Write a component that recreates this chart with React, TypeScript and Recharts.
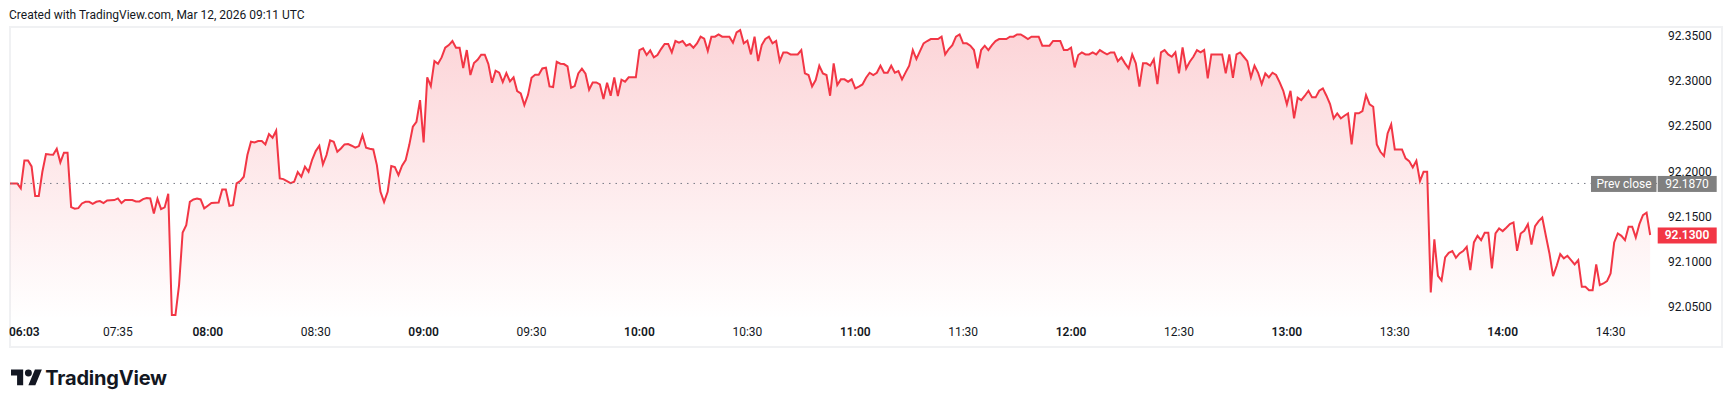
import { Area, AreaChart, ReferenceLine, XAxis, YAxis } from "recharts";

// first print of the day, shown as the first bar before the session gap
const preOpenTime = "06:03";
const preOpenPrice = 92.187;
const prevClose = 92.187;
const lastPrice = 92.13;

// one price per minute, per hour block
const h07 = [
  92.187, 92.187, 92.1815, 92.2125, 92.2125, 92.2058, 92.173, 92.173, 92.1999, 92.2195,
  92.219, 92.2187, 92.2254, 92.2103, 92.221, 92.221, 92.1608, 92.159, 92.1597, 92.1649,
  92.1667, 92.1667, 92.1645, 92.1667, 92.1675, 92.1653, 92.1682, 92.1684, 92.1686, 92.1704,
  92.1653, 92.1686, 92.1686, 92.1686, 92.1671, 92.1671, 92.1697, 92.1708, 92.1704, 92.1538,
  92.17, 92.1586, 92.1605, 92.1756, 92.0414, 92.0414, 92.0746, 92.1328, 92.1409, 92.1667,
  92.1693, 92.1704, 92.1693, 92.1594,
];
const h08 = [
  92.1623, 92.1653, 92.1657, 92.166, 92.1804, 92.1804, 92.1623, 92.163, 92.187, 92.1896,
  92.1944, 92.2184, 92.2331, 92.2324, 92.2339, 92.2339, 92.2302, 92.2416, 92.2375, 92.2453,
  92.1926, 92.1918, 92.1896, 92.1874, 92.1889, 92.1996, 92.1944, 92.2055, 92.1999, 92.2132,
  92.2228, 92.2287, 92.208, 92.2184, 92.2346, 92.2331, 92.222, 92.2257, 92.2302, 92.2305,
  92.2287, 92.2265, 92.2283, 92.2405, 92.2265, 92.2254, 92.2246, 92.2073, 92.1778, 92.1664,
  92.1778, 92.2062, 92.2051, 92.1962, 92.2066, 92.2128, 92.2294, 92.2497, 92.2552, 92.2792,
];
const h09 = [
  92.2324, 92.3043, 92.2947, 92.3223, 92.3194, 92.3264, 92.3371, 92.34, 92.3445, 92.3371,
  92.3371, 92.3146, 92.3345, 92.3069, 92.3201, 92.3238, 92.3294, 92.3294, 92.319, 92.2984,
  92.3117, 92.3094, 92.2991, 92.3091, 92.2999, 92.3043, 92.2892, 92.2866, 92.2737, 92.2847,
  92.3039, 92.3072, 92.3072, 92.3142, 92.315, 92.2943, 92.2936, 92.3216, 92.3194, 92.319,
  92.3164, 92.2928, 92.2947, 92.3087, 92.3139, 92.3083, 92.2906, 92.2987, 92.2987, 92.2965,
  92.2803, 92.2984, 92.284, 92.3043, 92.2836, 92.3017, 92.2995, 92.3043, 92.3043, 92.3043,
];
const h10 = [
  92.3345, 92.3364, 92.329, 92.3341, 92.3264, 92.329, 92.3356, 92.3412, 92.3412, 92.3319,
  92.3445, 92.3426, 92.3445, 92.3393, 92.3412, 92.3371, 92.3419, 92.3493, 92.347, 92.3334,
  92.3493, 92.3493, 92.3518, 92.3493, 92.3493, 92.3493, 92.3426, 92.3541, 92.3566, 92.3419,
  92.3448, 92.3297, 92.3493, 92.3223, 92.34, 92.3467, 92.3493, 92.3419, 92.3445, 92.3223,
  92.3319, 92.3319, 92.3297, 92.3297, 92.3297, 92.3345, 92.3087, 92.3069, 92.2943, 92.3013,
  92.3172, 92.3087, 92.3069, 92.284, 92.3198, 92.2958, 92.3021, 92.3021, 92.2995, 92.3021,
];
const h11 = [
  92.2921, 92.294, 92.2965, 92.3039, 92.3094, 92.3069, 92.3094, 92.3172, 92.3094, 92.3094,
  92.3172, 92.3094, 92.3113, 92.3021, 92.3098, 92.3172, 92.3345, 92.3246, 92.3334, 92.3419,
  92.3445, 92.3467, 92.3467, 92.3467, 92.3493, 92.3297, 92.3356, 92.34, 92.3493, 92.3518,
  92.3419, 92.3419, 92.3393, 92.3345, 92.3142, 92.3345, 92.3393, 92.3345, 92.34, 92.3445,
  92.3467, 92.3467, 92.3467, 92.3493, 92.3493, 92.3518, 92.3518, 92.3493, 92.3467, 92.3493,
  92.3493, 92.3493, 92.3393, 92.3393, 92.3393, 92.3445, 92.3445, 92.3445, 92.3345, 92.3345,
];
const h12 = [
  92.3371, 92.3153, 92.329, 92.3319, 92.3297, 92.3297, 92.3319, 92.3297, 92.3345, 92.3319,
  92.3297, 92.3319, 92.3319, 92.3223, 92.3264, 92.3198, 92.3142, 92.3297, 92.3198, 92.294,
  92.3198, 92.3198, 92.3172, 92.3242, 92.2969, 92.3319, 92.3345, 92.3297, 92.3271, 92.3319,
  92.3087, 92.3375, 92.3142, 92.3216, 92.3271, 92.3345, 92.3319, 92.3345, 92.3032, 92.3297,
  92.3297, 92.3297, 92.3297, 92.3087, 92.3297, 92.3039, 92.3297, 92.3319, 92.3271, 92.3223,
  92.3043, 92.3172, 92.3094, 92.2969, 92.3087, 92.3043, 92.3094, 92.3069, 92.2987, 92.2895,
];
const h13 = [
  92.2744, 92.2895, 92.2589, 92.2818, 92.2792, 92.284, 92.2895, 92.2822, 92.2822, 92.2895,
  92.2921, 92.284, 92.2748, 92.2589, 92.2645, 92.2589, 92.2619, 92.2645, 92.2302, 92.2645,
  92.2645, 92.267, 92.2847, 92.2744, 92.2718, 92.2302, 92.222, 92.2173, 92.2423, 92.2523,
  92.2246, 92.2246, 92.2246, 92.2147, 92.2117, 92.2047, 92.2121, 92.1896, 92.1999, 92.1999,
  92.0664, 92.1251, 92.0849, 92.0797, 92.1052, 92.1103, 92.1122, 92.1048, 92.1096, 92.1122,
  92.117, 92.0911, 92.1218, 92.1291, 92.1243, 92.1324, 92.1324, 92.093, 92.1317, 92.1372,
];
const h14 = [
  92.1343, 92.138, 92.142, 92.1439, 92.1125, 92.1317, 92.1347, 92.142, 92.1195, 92.1398,
  92.1454, 92.1494, 92.1291, 92.1096, 92.0845, 92.0959, 92.1089, 92.1041, 92.107, 92.1022,
  92.0974, 92.1022, 92.0727, 92.0727, 92.069, 92.069, 92.0974, 92.0746, 92.0764, 92.079,
  92.0875, 92.1218, 92.1317, 92.1291, 92.1243, 92.1391, 92.1391, 92.1273, 92.142, 92.152,
  92.1546, 92.13,
];

const sessionBlocks = [
  { start: "07:06", prices: h07 },
  { start: "08:00", prices: h08 },
  { start: "09:00", prices: h09 },
  { start: "10:00", prices: h10 },
  { start: "11:00", prices: h11 },
  { start: "12:00", prices: h12 },
  { start: "13:00", prices: h13 },
  { start: "14:00", prices: h14 },
];

const timeTicks = [
  "06:03", "07:35", "08:00", "08:30", "09:00", "09:30", "10:00", "10:30",
  "11:00", "11:30", "12:00", "12:30", "13:00", "13:30", "14:00", "14:30",
];
const priceTicks = [92.05, 92.1, 92.15, 92.2, 92.25, 92.3, 92.35];

const RED = "#f23645";
const TEXT = "#131722";
const FONT = "Roboto, 'Liberation Sans', sans-serif";

const toMinutes = (t: string) => {
  const [h, m] = t.split(":").map(Number);
  return h * 60 + m;
};
const fmtTime = (m: number) =>
  `${String(Math.floor(m / 60)).padStart(2, "0")}:${String(m % 60).padStart(2, "0")}`;

// TradingView plots by bar index, so the gap after the pre-open print collapses
const rows: { bar: number; time: string; price: number }[] = [
  { bar: 0, time: preOpenTime, price: preOpenPrice },
];
sessionBlocks.forEach((b) =>
  b.prices.forEach((p, i) =>
    rows.push({ bar: rows.length, time: fmtTime(toMinutes(b.start) + i), price: p })
  )
);
const tickBars = timeTicks.map((t) => rows.find((r) => r.time === t)!.bar);
const timeByBar = new Map(rows.map((r) => [r.bar, r.time]));

function TimeTick({ x, y, payload }: any) {
  const label = timeByBar.get(payload.value) ?? "";
  const first = payload.value === 0;
  const bold = first || label.endsWith(":00");
  return (
    <text
      x={first ? x - 1 : x}
      y={y + 16}
      textAnchor={first ? "start" : "middle"}
      fill={TEXT}
      fontSize={12}
      fontWeight={bold ? 600 : 400}
      fontFamily={FONT}
    >
      {label}
    </text>
  );
}

function PriceTick({ x, y, payload }: any) {
  return (
    <text x={x + 11} y={y + 4} fill={TEXT} fontSize={12} fontFamily={FONT}>
      {payload.value.toFixed(4)}
    </text>
  );
}

function PrevCloseLabel({ viewBox }: any) {
  const r = viewBox.x + viewBox.width;
  const y = viewBox.y;
  return (
    <g fontFamily={FONT} fontSize={12} fill="#fff">
      <rect x={r - 66} y={y - 7.5} width={65.5} height={16} fill="#808080" />
      <text x={r - 33} y={y + 4.5} textAnchor="middle" fill="#fff">
        Prev close
      </text>
      <rect x={r + 0.7} y={y - 7.5} width={59} height={16} fill="#808080" />
      <text x={r + 30} y={y + 4.5} textAnchor="middle" fill="#fff">
        {prevClose.toFixed(4)}
      </text>
    </g>
  );
}

function LastPriceLabel({ viewBox }: any) {
  const r = viewBox.x + viewBox.width;
  const y = viewBox.y;
  return (
    <g fontFamily={FONT} fontSize={12}>
      <rect x={r + 0.7} y={y - 7.5} width={59} height={16} fill={RED} />
      <text x={r + 30} y={y + 4.5} textAnchor="middle" fill="#fff" fontWeight={600}>
        {lastPrice.toFixed(4)}
      </text>
    </g>
  );
}

export default function App() {
  return (
    <div
      style={{
        position: "fixed",
        left: 0,
        top: 0,
        width: 1732,
        height: 407,
        background: "#fff",
        fontFamily: FONT,
        overflow: "hidden",
      }}
    >
      <div style={{ position: "absolute", left: 9, top: 8, fontSize: 12, color: TEXT }}>
        Created with TradingView.com, Mar 12, 2026 09:11 UTC
      </div>
      <div
        style={{
          position: "absolute",
          left: 9,
          top: 26,
          width: 1710,
          height: 318,
          border: "2px solid #f0f1f3",
        }}
      />
      <div style={{ position: "absolute", left: 0, top: 0 }}>
        <AreaChart
          width={1732}
          height={407}
          data={rows}
          margin={{ top: 27, right: 11, bottom: 59, left: 10 }}
        >
          <defs>
            <linearGradient id="areaFill" x1="0" y1="27" x2="0" y2="320" gradientUnits="userSpaceOnUse">
              <stop offset="0%" stopColor={RED} stopOpacity={0.36} />
              <stop offset="100%" stopColor={RED} stopOpacity={0} />
            </linearGradient>
          </defs>
          <XAxis
            type="number"
            dataKey="bar"
            domain={[0, 457.9]}
            ticks={tickBars}
            interval={0}
            axisLine={false}
            tickLine={false}
            tickSize={0}
            tickMargin={0}
            height={28}
            tick={<TimeTick />}
          />
          <YAxis
            orientation="right"
            type="number"
            domain={[92.036, 92.36]}
            ticks={priceTicks}
            interval={0}
            axisLine={false}
            tickLine={false}
            tickSize={0}
            tickMargin={0}
            width={64}
            tick={<PriceTick />}
          />
          <Area
            type="linear"
            dataKey="price"
            stroke={RED}
            strokeWidth={2}
            fill="url(#areaFill)"
            baseValue="dataMin"
            dot={false}
            activeDot={false}
            isAnimationActive={false}
          />
          <ReferenceLine
            y={prevClose}
            stroke="#787b86"
            strokeWidth={1}
            strokeDasharray="1.5 5"
            label={<PrevCloseLabel />}
          />
          <ReferenceLine y={lastPrice} stroke="none" label={<LastPriceLabel />} />
        </AreaChart>
      </div>
      <div style={{ position: "absolute", left: 11, top: 366, display: "flex", alignItems: "center" }}>
        <svg width={31.3} height={24.4} viewBox="0 0 36 28" fill={TEXT}>
          <path d="M14 22H7V11H0V4h14v18zM28 22h-8l7.5-18h8L28 22z" />
          <circle cx="20" cy="8" r="4" />
        </svg>
        <span style={{ marginLeft: 3, fontSize: 20, fontWeight: 700, color: TEXT, fontFamily: "Inter, sans-serif", letterSpacing: -0.2 }}>
          TradingView
        </span>
      </div>
    </div>
  );
}
